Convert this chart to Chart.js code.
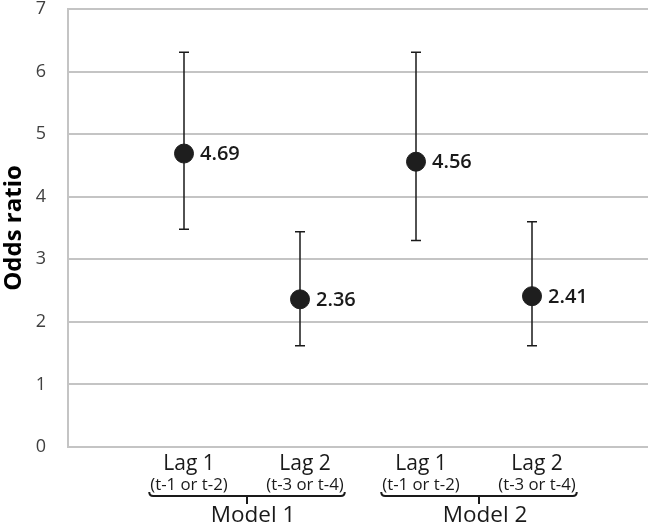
<!DOCTYPE html>
<html>
<head>
<meta charset="utf-8">
<script src="https://cdn.jsdelivr.net/npm/chart.js@4.4.1/dist/chart.umd.min.js"></script>
<style>
  html, body { margin: 0; padding: 0; background: #fff; }
  #wrap { width: 649px; height: 525px; }
</style>
</head>
<body>
<div id="wrap"><canvas id="myChart" width="649" height="525"></canvas></div>
<script>
// data
const categories = ['Lag 1', 'Lag 2', 'Lag 1', 'Lag 2'];
const lagNotes = ['(t-1 or t-2)', '(t-3 or t-4)', '(t-1 or t-2)', '(t-3 or t-4)'];
const categoryPos = [1, 2, 3, 4];
const models = ['Model 1', 'Model 2'];
const modelGroups = [[0, 1], [2, 3]];
const oddsRatio = [4.69, 2.36, 4.56, 2.41];
const ciLower = [3.48, 1.62, 3.30, 1.62];
const ciUpper = [6.31, 3.44, 6.31, 3.60];
const yMin = 0, yMax = 7, yStep = 1;

const FONT = "'Open Sans', sans-serif";
const INK = '#1a1a1a';

//error bars, value labels, category labels and brackets
const extrasPlugin = {
    id: 'extras',
    beforeDatasetsDraw(chart) {
        const ctx = chart.ctx;
        const xs = chart.scales.x, ys = chart.scales.y;
        ctx.save();
        ctx.strokeStyle = INK;
        ctx.lineWidth = 1.5;
        for (let i = 0; i < oddsRatio.length; i++) {
            const x = xs.getPixelForValue(categoryPos[i]);
            const yt = ys.getPixelForValue(ciUpper[i]);
            const yb = ys.getPixelForValue(ciLower[i]);
            ctx.beginPath();
            ctx.moveTo(x, yt); ctx.lineTo(x, yb);
            ctx.moveTo(x - 5, yt); ctx.lineTo(x + 5, yt);
            ctx.moveTo(x - 5, yb); ctx.lineTo(x + 5, yb);
            ctx.stroke();
        }
        ctx.restore();
    },
    afterDraw(chart) {
        const ctx = chart.ctx;
        const xs = chart.scales.x, ys = chart.scales.y;
        ctx.save();
        ctx.fillStyle = INK;

        // value labels
        ctx.font = "600 20px " + FONT;
        ctx.textAlign = 'left';
        ctx.textBaseline = 'middle';
        for (let i = 0; i < oddsRatio.length; i++) {
            const x = xs.getPixelForValue(categoryPos[i]);
            const y = ys.getPixelForValue(oddsRatio[i]);
            ctx.fillText(oddsRatio[i].toFixed(2), x + 16, y + 1);
        }

        // category labels
        ctx.textAlign = 'center';
        ctx.textBaseline = 'alphabetic';
        const noteBox = [];
        for (let i = 0; i < categories.length; i++) {
            const x = xs.getPixelForValue(categoryPos[i]) + 5;
            ctx.font = "21px " + FONT;
            ctx.fillText(categories[i], x, 470);
            ctx.font = "16.8px " + FONT;
            ctx.fillText(lagNotes[i], x, 490);
            const w = ctx.measureText(lagNotes[i]).width;
            noteBox.push([x - w / 2, x + w / 2]);
        }

        // model brackets
        ctx.strokeStyle = INK;
        ctx.lineWidth = 2;
        ctx.font = "22.5px " + FONT;
        for (let m = 0; m < models.length; m++) {
            const g = modelGroups[m];
            const l = noteBox[g[0]][0] - 1;
            const r = noteBox[g[g.length - 1]][1] + 1;
            const c = (l + r) / 2;
            const y = 496;
            ctx.beginPath();
            ctx.moveTo(l, y - 4);
            ctx.quadraticCurveTo(l, y, l + 4, y);
            ctx.lineTo(r - 4, y);
            ctx.quadraticCurveTo(r, y, r, y - 4);
            ctx.moveTo(c, y);
            ctx.lineTo(c, y + 8);
            ctx.stroke();
            ctx.fillText(models[m], c + 6, 522);
        }
        ctx.restore();
    }
};

const ctx = document.getElementById('myChart').getContext('2d');

const data = {
    datasets: [{
        label: 'Odds ratio',
        data: oddsRatio.map((v, i) => ({ x: categoryPos[i], y: v })),
        backgroundColor: '#1e1e1e',
        borderColor: '#1e1e1e',
        pointRadius: 9.5,
        pointHoverRadius: 9.5,
        showLine: false
    }]
};

const myChart = new Chart(ctx, {
    type: 'scatter',
    data: data,
    plugins: [extrasPlugin],
    options: {
        responsive: false,
        animation: false,
        layout: { autoPadding: false, padding: { left: 0, top: 9, right: 1, bottom: 78 } },
        plugins: {
            legend: { display: false },
            tooltip: { enabled: false }
        },
        scales: {
            x: {
                type: 'linear',
                min: 0,
                max: categoryPos.length + 1,
                display: false
            },
            y: {
                min: yMin,
                max: yMax,
                afterFit: (scale) => {
                    scale.width = 68;
                    scale.paddingTop = 9;
                    scale.paddingBottom = 9;
                },
                ticks: {
                    stepSize: yStep,
                    color: '#404040',
                    padding: 22,
                    font: { family: FONT, size: 18, lineHeight: 1 }
                },
                grid: {
                    color: '#c4c4c4',
                    lineWidth: 2,
                    drawTicks: false
                },
                border: { color: '#c4c4c4', width: 2 },
                title: {
                    display: true,
                    text: 'Odds ratio',
                    color: '#000',
                    padding: { top: 0, bottom: 0 },
                    font: { family: FONT, size: 24, weight: 'bold', lineHeight: 1.2 }
                }
            }
        }
    }
});
</script>
</body>
</html>
